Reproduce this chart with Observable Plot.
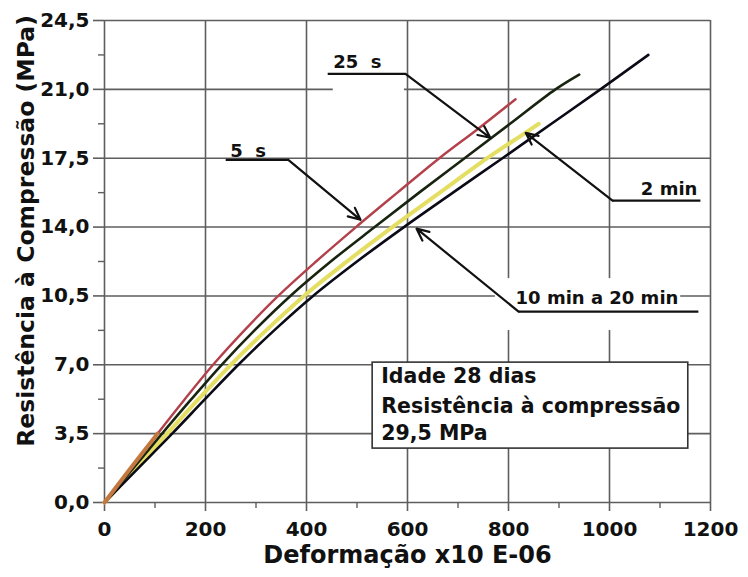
<!DOCTYPE html>
<html><head><meta charset="utf-8">
<script src="https://cdn.jsdelivr.net/npm/d3@7"></script>
<script src="https://cdn.jsdelivr.net/npm/@observablehq/plot@0.6"></script>
<style>
html,body{margin:0;padding:0;background:#fff;}
svg text{white-space:pre;}
</style></head><body><div id="chart"></div>
<script>
// Axis ticks
const xTicks = [0, 200, 400, 600, 800, 1000, 1200];
const xMinor = [100, 300, 500, 700, 900, 1100];
const yTicks = [0, 3.5, 7, 10.5, 14, 17.5, 21, 24.5];
const yMinor = [1.75, 5.25, 8.75, 12.25, 15.75, 19.25, 22.75];

// Series: strain (x10E-06) and stress (MPa)
const strain5s = [0, 52, 105, 159, 215, 277, 344, 419, 498, 580, 663, 740, 814];
const stress5s = [0, 1.75, 3.5, 5.25, 7, 8.75, 10.5, 12.25, 14, 15.75, 17.5, 19, 20.5];
const strain25s = [0, 57, 114, 172, 232, 297, 368, 448, 535, 623, 713, 803, 893, 940];
const stress25s = [0, 1.75, 3.5, 5.25, 7, 8.75, 10.5, 12.25, 14, 15.75, 17.5, 19.25, 21, 21.75];
const strain2min = [0, 62, 124, 186, 250, 320, 395, 480, 570, 664, 758, 828, 860];
const stress2min = [0, 1.75, 3.5, 5.25, 7, 8.75, 10.5, 12.25, 14, 15.75, 17.5, 18.7, 19.25];
const strain10min = [0, 67, 134, 199, 265, 336, 413, 500, 593, 690, 788, 885, 982, 1077];
const stress10min = [0, 1.75, 3.5, 5.25, 7, 8.75, 10.5, 12.25, 14, 15.75, 17.5, 19.25, 21, 22.75];

// Annotation labels
const labelText = ["5  s", "25  s", "2 min", "10 min a 20 min"];
const labelX = [249, 453, 1174, 814];
const labelY = [17.88, 22.37, 15.9, 10.36];
const labelAnchor = ["start", "start", "end", "start"];
const underX1 = [240, 442, 1006, 820];
const underX2 = [364, 596, 1180, 1176];
const underY = [17.42, 21.79, 15.34, 9.70];
const tipX = [507, 764, 834, 618];
const tipY = [14.37, 18.54, 18.79, 13.92];
const maskX1 = [453, 774], maskX2 = [594, 1141], maskY1 = [20.5, 8.74], maskY2 = [22.96, 11.38];

// Info box
const boxX = [531, 1156], boxY = [2.74, 7.11];
const boxLines = ["Idade 28 dias", "Resistência à compressão", "29,5 MPa"];
const boxLineY = [6.4, 4.9, 3.52];
const boxTextX = 548;

const xLabel = "Deformação x10 E-06";
const yLabel = "Resistência à Compressão (MPa)";

const rows = (xs, ys) => xs.map((x, i) => ({strain: x, stress: ys[i]}));
const labels = labelText.map((t, i) => ({
  t, x: labelX[i], y: labelY[i], anchor: labelAnchor[i],
  ux1: underX1[i], ux2: underX2[i], uy: underY[i],
  sx: i >= 2 ? underX1[i] : underX2[i],
  tx: tipX[i], ty: tipY[i]
}));
const masks = maskX1.map((x1, i) => ({x1, x2: maskX2[i], y1: maskY1[i], y2: maskY2[i]}));
const boxRows = boxLines.map((t, i) => ({t, y: boxLineY[i]}));
const red = rows(strain5s, stress5s);
const curve = "catmull-rom";

const grid = "#5e5e5e";
const chart = Plot.plot({
  width: 748, height: 577,
  marginLeft: 104, marginRight: 38, marginTop: 20, marginBottom: 75,
  x: {domain: [0, 1200]},
  y: {domain: [0, 24.5]},
  style: {fontFamily: "'DejaVu Sans', sans-serif", fontWeight: "bold", fontSize: "20px", color: "#111", background: "#fff"},
  marks: [
    Plot.ruleX(xTicks, {stroke: grid, strokeWidth: 1.6}),
    Plot.ruleY(yTicks, {stroke: grid, strokeWidth: 1.6}),
    Plot.rect(masks, {x1: "x1", x2: "x2", y1: "y1", y2: "y2", fill: "white"}),
    Plot.axisX({ticks: xTicks, tickFormat: d => String(d), tickSize: 9, tickPadding: 10, stroke: grid, strokeWidth: 1.6, label: null, fontSize: 20}),
    Plot.axisX({ticks: xMinor, tickFormat: () => "", tickSize: 6, stroke: grid, strokeWidth: 1.4, label: null}),
    Plot.axisY({ticks: yTicks, tickFormat: d => d.toFixed(1).replace(".", ","), tickSize: 11, tickPadding: 4, stroke: grid, strokeWidth: 1.6, label: null, fontSize: 20}),
    Plot.axisY({ticks: yMinor, tickFormat: () => "", tickSize: 6, stroke: grid, strokeWidth: 1.4, label: null}),
    Plot.line(rows(strain2min, stress2min), {x: "strain", y: "stress", stroke: "#e4de62", strokeWidth: 4, curve}),
    Plot.line(rows(strain10min, stress10min), {x: "strain", y: "stress", stroke: "#0b0b18", strokeWidth: 2.6, curve}),
    Plot.line(rows(strain25s, stress25s), {x: "strain", y: "stress", stroke: "#18240f", strokeWidth: 2.6, curve}),
    Plot.line(red, {x: "strain", y: "stress", stroke: "#b3414b", strokeWidth: 2.4, curve}),
    Plot.line(red.filter(d => d.stress <= 3.5), {x: "strain", y: "stress", stroke: "#c47840", strokeWidth: 4, curve}),
    Plot.link(labels, {x1: "ux1", x2: "ux2", y1: "uy", y2: "uy", stroke: "#111", strokeWidth: 2.2}),
    Plot.arrow(labels, {x1: "sx", y1: "uy", x2: "tx", y2: "ty", stroke: "#111", strokeWidth: 2.2, headLength: 9, headAngle: 50}),
    Plot.text(labels.filter(d => d.anchor === "start"), {x: "x", y: "y", text: "t", textAnchor: "start", fontSize: 18, fill: "#111"}),
    Plot.text(labels.filter(d => d.anchor === "end"), {x: "x", y: "y", text: "t", textAnchor: "end", fontSize: 18, fill: "#111"}),
    Plot.rect([{x1: boxX[0], x2: boxX[1], y1: boxY[0], y2: boxY[1]}], {x1: "x1", x2: "x2", y1: "y1", y2: "y2", fill: "white", stroke: "#333", strokeWidth: 1.6}),
    Plot.text(boxRows, {x: () => boxTextX, y: "y", text: "t", textAnchor: "start", fontSize: 20.5, fill: "#111"}),
    Plot.text([xLabel], {text: d => d, frameAnchor: "bottom", dy: 60, fontSize: 24, fill: "#111", style: "letter-spacing:2px"}),
    Plot.text([yLabel], {text: d => d, frameAnchor: "left", y: [13.8], dx: -78, rotate: -90, textAnchor: "middle", fontSize: 23.5, fill: "#111"})
  ]
});
document.getElementById("chart").appendChild(chart);
</script>
</body></html>
